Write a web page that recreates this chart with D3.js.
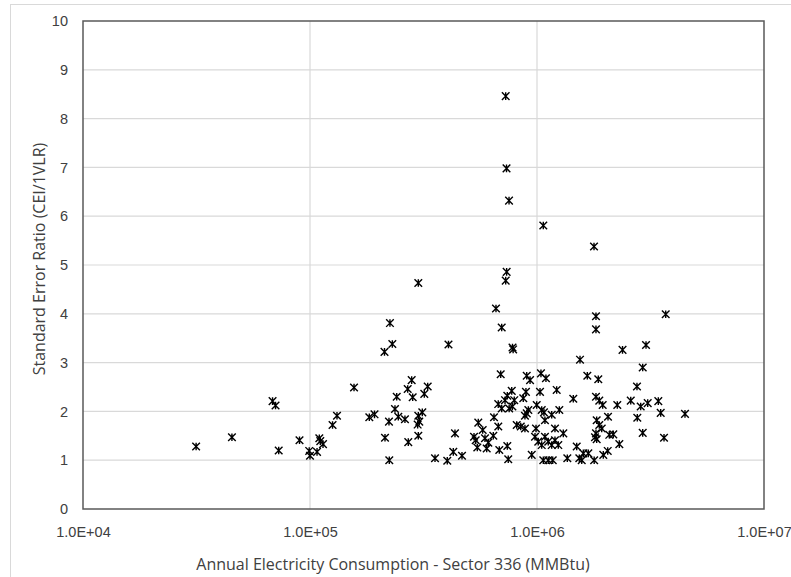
<!DOCTYPE html>
<html>
<head>
<meta charset="utf-8">
<script src="https://cdn.jsdelivr.net/npm/d3@7"></script>
<style>
  body { margin: 0; background: #fff; }
  svg { display: block; font-family: 'Open Sans', sans-serif; }
  .tick text { fill: #404040; font-size: 14.5px; }
  .axis-title { fill: #404040; font-size: 16px; }
</style>
</head>
<body>
<svg id="chart" width="791" height="577"></svg>
<script>
// Annual electricity consumption (MMBtu), one entry per plant
const consumption = [
  3.15e4, 4.53e4, 6.84e4, 7.05e4, 7.28e4, 8.99e4, 9.92e4, 1.0e5, 1.074e5, 1.099e5,
  1.11e5, 1.141e5, 1.257e5, 1.315e5, 1.563e5, 1.825e5, 1.924e5, 2.129e5, 2.14e5, 2.228e5,
  2.235e5, 2.25e5, 2.305e5, 2.368e5, 2.41e5, 2.449e5, 2.62e5, 2.694e5, 2.71e5, 2.805e5,
  2.834e5, 3.0e5, 3.0e5, 3.03e5, 2.98e5, 3.0e5, 3.124e5, 3.188e5, 3.30e5, 3.554e5,
  4.025e5, 4.074e5, 4.278e5, 4.352e5, 4.673e5, 5.279e5, 5.37e5, 5.458e5, 5.513e5, 5.765e5,
  6.004e5, 6.103e5, 5.90e5, 6.42e5, 6.465e5, 6.597e5, 6.753e5, 6.822e5, 6.75e5, 6.92e5,
  6.99e5, 6.99e5, 7.23e5, 7.28e5, 7.28e5, 7.34e5, 7.35e5, 7.40e5, 7.40e5, 7.47e5,
  7.53e5, 7.54e5, 7.74e5, 7.80e5, 7.85e5, 7.79e5, 7.94e5, 8.14e5, 8.48e5, 8.70e5,
  8.85e5, 8.85e5, 8.94e5, 9.01e5, 9.01e5, 9.16e5, 9.32e5, 9.48e5, 9.80e5, 9.90e5,
  9.97e5, 1.013e6, 1.031e6, 1.041e6, 1.049e6, 1.049e6, 1.066e6, 1.066e6, 1.073e6, 1.084e6,
  1.084e6, 1.095e6, 1.121e6, 1.121e6, 1.161e6, 1.161e6, 1.173e6, 1.20e6, 1.20e6, 1.221e6,
  1.241e6, 1.254e6, 1.306e6, 1.36e6, 1.445e6, 1.496e6, 1.536e6, 1.547e6, 1.60e6, 1.574e6,
  1.666e6, 1.683e6, 1.783e6, 1.786e6, 1.801e6, 1.819e6, 1.819e6, 1.819e6, 1.819e6, 1.832e6,
  1.832e6, 1.862e6, 1.881e6, 1.928e6, 1.947e6, 1.881e6, 1.959e6, 2.049e6, 2.055e6, 2.082e6,
  2.168e6, 2.258e6, 2.305e6, 2.381e6, 2.588e6, 2.757e6, 2.766e6, 2.863e6, 2.922e6, 2.922e6,
  3.022e6, 3.074e6, 3.423e6, 3.507e6, 3.627e6, 3.69e6, 4.487e6
];
// Standard error ratio (CEI/1VLR), same order
const errorRatio = [
  1.28, 1.47, 2.21, 2.12, 1.20, 1.41, 1.19, 1.09, 1.17, 1.45,
  1.39, 1.33, 1.72, 1.91, 2.49, 1.88, 1.94, 3.22, 1.46, 1.79,
  1.00, 3.81, 3.38, 2.05, 2.30, 1.89, 1.84, 2.46, 1.37, 2.64,
  2.29, 4.63, 1.91, 1.79, 1.73, 1.50, 1.98, 2.36, 2.51, 1.04,
  0.99, 3.37, 1.17, 1.55, 1.09, 1.48, 1.41, 1.26, 1.77, 1.62,
  1.24, 1.36, 1.45, 1.50, 1.88, 4.11, 1.69, 1.21, 2.15, 2.76,
  3.72, 2.06, 2.23, 8.46, 4.68, 6.98, 4.86, 2.32, 1.29, 1.02,
  6.32, 2.06, 2.42, 3.31, 3.27, 2.10, 2.23, 1.72, 1.69, 2.27,
  1.91, 1.65, 2.40, 2.73, 1.96, 2.03, 2.64, 1.11, 1.48, 1.65,
  2.13, 1.38, 2.40, 2.78, 2.03, 1.31, 5.81, 1.00, 1.98, 1.82,
  1.48, 2.68, 1.38, 1.00, 1.93, 1.31, 1.00, 1.41, 1.65, 2.44,
  1.31, 2.03, 1.55, 1.04, 2.26, 1.28, 1.04, 3.06, 1.14, 1.00,
  2.73, 1.14, 5.38, 1.00, 1.47, 3.95, 3.68, 2.30, 1.55, 1.82,
  1.43, 2.66, 1.72, 1.65, 2.13, 2.22, 1.11, 1.19, 1.89, 1.52,
  1.53, 2.13, 1.33, 3.26, 2.22, 2.51, 1.87, 2.10, 2.90, 1.56,
  3.36, 2.17, 2.21, 1.97, 1.46, 3.99, 1.95
];
const xTicks = [1e4, 1e5, 1e6, 1e7];
const xTickLabels = ['1.0E+04', '1.0E+05', '1.0E+06', '1.0E+07'];
const yTicks = [0, 1, 2, 3, 4, 5, 6, 7, 8, 9, 10];

const xAxisLabel = 'Annual Electricity Consumption - Sector 336 (MMBtu)';
const yAxisLabel = 'Standard Error Ratio (CEI/1VLR)';

const svg = d3.select('#chart');
const margin = { left: 83, top: 21, right: 27, bottom: 68 };
const width = +svg.attr('width');
const height = +svg.attr('height');
const innerWidth = width - margin.left - margin.right;
const innerHeight = height - margin.top - margin.bottom;

// outer chart frame (only top and left edges fall inside the picture)
svg.append('rect')
  .attr('x', 10.5).attr('y', 4.5)
  .attr('width', 800).attr('height', 600)
  .attr('fill', 'none').attr('stroke', '#d9d9d9');

const chart = svg.append('g')
  .attr('transform', `translate(${margin.left},${margin.top})`);

const xScale = d3.scaleLog().domain([1e4, 1e7]).range([0, innerWidth]);
const yScale = d3.scaleLinear().domain([0, 10]).range([innerHeight, 0]);

// gridlines
chart.append('g')
  .selectAll('line.hgrid')
  .data(yTicks.slice(1, -1))
  .join('line')
  .attr('x1', 0).attr('x2', innerWidth)
  .attr('y1', d => yScale(d)).attr('y2', d => yScale(d))
  .attr('stroke', '#d9d9d9').attr('stroke-width', 1.2);

chart.append('g')
  .selectAll('line.vgrid')
  .data(xTicks.slice(1, -1))
  .join('line')
  .attr('x1', d => xScale(d)).attr('x2', d => xScale(d))
  .attr('y1', 0).attr('y2', innerHeight)
  .attr('stroke', '#d9d9d9').attr('stroke-width', 1.2);

// axes, labels only
const xAxis = d3.axisBottom(xScale)
  .tickValues(xTicks)
  .tickFormat((d, i) => xTickLabels[i])
  .tickSize(0).tickPadding(18);
const yAxis = d3.axisLeft(yScale)
  .tickValues(yTicks)
  .tickFormat(d3.format('d'))
  .tickSize(0).tickPadding(15);

const xAxisG = chart.append('g')
  .attr('transform', `translate(0,${innerHeight})`)
  .call(xAxis);
const yAxisG = chart.append('g').call(yAxis);
xAxisG.select('.domain').remove();
yAxisG.select('.domain').remove();

// plot area frame
chart.append('rect')
  .attr('width', innerWidth).attr('height', innerHeight)
  .attr('fill', 'none').attr('stroke', '#595959').attr('stroke-width', 1.5);

// star markers (x plus vertical bar)
const points = consumption.map((c, i) => ({ x: c, y: errorRatio[i] }));
const r = 3.8;
chart.append('g')
  .selectAll('path')
  .data(points)
  .join('path')
  .attr('transform', d => `translate(${xScale(d.x)},${yScale(d.y)})`)
  .attr('d', `M${-r},${-r}L${r},${r}M${-r},${r}L${r},${-r}M0,${-r}L0,${r}`)
  .attr('stroke', '#000').attr('stroke-width', 1.4)
  .attr('fill', 'none');

// axis titles
svg.append('text')
  .attr('class', 'axis-title')
  .attr('x', 393).attr('y', 570)
  .attr('text-anchor', 'middle')
  .text(xAxisLabel);

svg.append('text')
  .attr('class', 'axis-title')
  .attr('transform', 'translate(45,259) rotate(-90)')
  .attr('text-anchor', 'middle')
  .text(yAxisLabel);
</script>
</body>
</html>
